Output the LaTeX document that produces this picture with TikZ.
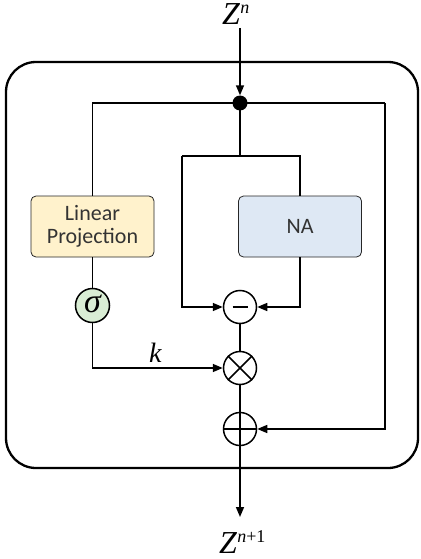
\documentclass[tikz,border=0pt]{standalone}
\usepackage{fontspec}
\setmainfont{Liberation Serif}
\newfontfamily\boxfont{Carlito}
\usetikzlibrary{arrows.meta}
\definecolor{lpfill}{HTML}{FFF2CC}
\definecolor{nafill}{HTML}{DEE8F4}
\definecolor{sgfill}{HTML}{D9EDD4}
\definecolor{txtgray}{HTML}{333333}
\newcommand\mysup[1]{\raisebox{11pt}{\fontsize{18}{18}\selectfont #1}}
\begin{document}
\begin{tikzpicture}[x=1pt,y=-1pt,
  conn/.style={line width=1.5pt,line join=miter},
  arr/.style={conn,-{Triangle[length=10pt,width=8pt]}},
  blk/.style={draw=black!85,line width=0.8pt,rounded corners=5pt,minimum width=123pt,minimum height=61pt,inner sep=0pt,font=\boxfont\fontsize{22}{27}\selectfont,text=txtgray,align=center},
  op/.style={circle,draw,line width=1.5pt,minimum size=33pt,inner sep=0pt,fill=white},
  lbl/.style={inner sep=0pt,font=\fontsize{32}{34}\selectfont}
]
\useasboundingbox (0,0) rectangle (420,559);
\draw[line width=2.3pt,rounded corners=30pt] (6,62) rectangle (418,468);
% nodes
\node[lbl,anchor=base west] (zin) at (222,25) {\textit{Z}\mysup{\textit{n}}};
\node[circle,fill=black,minimum size=15pt,inner sep=0pt] (dot) at (240,103) {};
\node[blk,fill=lpfill] (lp) at (92.5,226.5) {Linear\\[-4pt]Projection};
\node[blk,fill=nafill] (na) at (300,226.5) {NA};
\node[op,fill=sgfill,minimum size=34pt] (sig) at (92.5,305.5) {};
\node[font=\fontsize{34}{36}\selectfont\itshape,inner sep=0pt] at ([yshift=1.5pt]sig.center) {σ};
\node[op] (minus) at (240,307) {};
\node[op] (times) at (240,368) {};
\node[op] (plus) at (240,429) {};
\draw[line width=1.5pt] ([xshift=-7.5pt]minus.center) -- ([xshift=7.5pt]minus.center);
\draw[line width=1.5pt] (times.north west) -- (times.south east) (times.north east) -- (times.south west);
\draw[line width=1.5pt] (plus.north) -- (plus.south) (plus.west) -- (plus.east);
\coordinate (tl) at (92.5,103);
\coordinate (tr) at (385,103);
\coordinate (cm) at (240,156);
\coordinate (cl) at (182,156);
\coordinate (cr) at (300,156);
\coordinate (out) at (240,517);
\coordinate (zstart) at (240,28);
\node[lbl,anchor=base west] (zout) at (219,553) {\textit{Z}\mysup{\textit{n}+1}};
\node[font=\fontsize{28}{30}\selectfont\itshape,inner sep=0pt,anchor=base west] (k) at (149,362) {k};
% connectors
\draw[arr] (zstart) -- (dot.north);
\draw[conn] (lp.north) -- (tl) -- (tr);
\draw[arr] (tr) |- (plus.east);
\draw[conn] (dot.center) -- (cm);
\draw[conn] (cl) -- (cr) -- (na.north);
\draw[arr] (cl) |- (minus.west);
\draw[arr] (na.south) |- (minus.east);
\draw[conn] (lp.south) -- (sig.north);
\draw[arr] (sig.south) |- (times.west);
\draw[conn] (minus.south) -- (times.north);
\draw[conn] (times.south) -- (plus.north);
\draw[arr] (plus.south) -- (out);
\end{tikzpicture}
\end{document}
